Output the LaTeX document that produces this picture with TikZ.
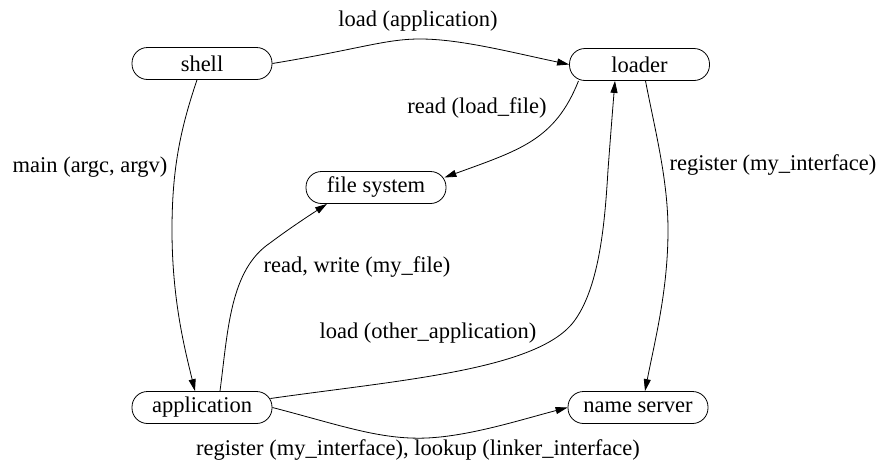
\documentclass[tikz,border=0pt]{standalone}
\usepackage{fontspec}
\setmainfont{Liberation Serif}
\usetikzlibrary{arrows.meta}
\begin{document}
\begin{tikzpicture}[x=1pt,y=-1pt,
  every node/.style={font=\fontsize{22.5}{27}\selectfont},
  proc/.style={draw=black,line width=0.8pt,rectangle,rounded corners=15.5pt,
    minimum width=140pt,minimum height=32pt,inner sep=0pt},
  lbl/.style={inner sep=0pt},
  conn/.style={draw=black,line width=0.8pt,-{Triangle[length=12pt,width=7pt]}}]
\useasboundingbox (0,0) rectangle (895,469);
\fill[white] (0,0) rectangle (895,469);
% nodes
\node[proc] (shell) at (202,63.5) {shell};
\node[proc] (loader) at (639.5,64.5) {loader};
\node[proc] (fs) at (376,187.5) {file system};
\node[proc] (app) at (202,407.5) {application};
\node[proc] (ns) at (638,407.5) {name server};
% labels
\node[lbl] (l1) at (418,21) {load (application)};
\node[lbl] (l2) at (477,108) {read (load\_file)};
\node[lbl] (l3) at (773,165) {register (my\_interface)};
\node[lbl] (l4) at (90,167) {main (argc, argv)};
\node[lbl] (l5) at (357,267) {read, write (my\_file)};
\node[lbl] (l6) at (428,333) {load (other\_application)};
\node[lbl] (l7) at (418,450) {register (my\_interface), lookup (linker\_interface)};
% connectors
\draw[conn] (shell.east) .. controls (360,49) and (385,39) .. (420,39)
  .. controls (460,39) and (510,52) .. (loader.west);
\draw[conn] ([xshift=-61pt]loader.south) .. controls (555,140) and (520,150) .. ([shift={(-2pt,10pt)}]fs.east);
\draw[conn] ([xshift=6pt]loader.south) .. controls (655,130) and (668,180) .. (668,230)
  .. controls (668,290) and (655,340) .. ([xshift=7pt]ns.north);
\draw[conn] ([xshift=-5pt]shell.south) .. controls (180,130) and (172,170) .. (172,230)
  .. controls (172,300) and (185,350) .. ([xshift=-7pt]app.north);
\draw[conn] ([xshift=18pt]app.north) .. controls (228,330) and (230,270) .. (270,243)
  .. controls (290,228) and (310,215) .. ([xshift=-49pt]fs.south);
\draw[conn] ([shift={(-2pt,9pt)}]app.east) .. controls (400,380) and (540,370) .. (575,320)
  .. controls (600,285) and (605,220) .. (608,170)
  .. controls (611,130) and (613,105) .. ([xshift=-24.5pt]loader.south);
\draw[conn] (app.east) .. controls (340,425) and (380,440) .. (427,438)
  .. controls (470,436) and (520,420) .. (ns.west);
\end{tikzpicture}
\end{document}
